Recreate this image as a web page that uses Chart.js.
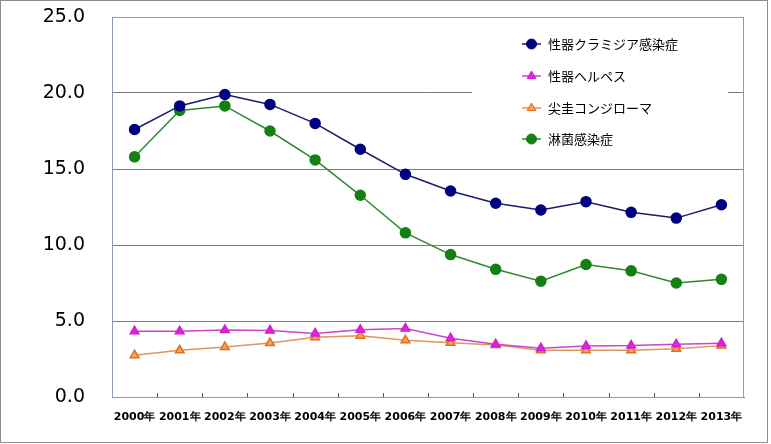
<!DOCTYPE html>
<html>
<head>
<meta charset="utf-8">
<script src="https://cdn.jsdelivr.net/npm/chart.js@4/dist/chart.umd.min.js"></script>
<style>
  body { margin: 0; background: #fff; }
  #wrap { width: 771px; height: 444px; position: relative; }
</style>
</head>
<body>
<div id="wrap"><canvas id="chart"></canvas></div>
<script>
const years = ['2000年', '2001年', '2002年', '2003年', '2004年', '2005年', '2006年',
  '2007年', '2008年', '2009年', '2010年', '2011年', '2012年', '2013年'];

const chlamydia = [17.6, 19.15, 19.9, 19.25, 18.0, 16.3, 14.65, 13.55, 12.75, 12.3, 12.85, 12.15, 11.77, 12.65];
const herpes = [4.32, 4.32, 4.4, 4.38, 4.18, 4.42, 4.5, 3.86, 3.47, 3.2, 3.36, 3.38, 3.47, 3.53];
const condyloma = [2.75, 3.07, 3.29, 3.55, 3.93, 4.03, 3.73, 3.57, 3.42, 3.07, 3.07, 3.07, 3.18, 3.38];
const gonorrhea = [15.8, 18.85, 19.15, 17.5, 15.6, 13.27, 10.8, 9.37, 8.4, 7.62, 8.72, 8.3, 7.5, 7.74];

const yTicks = [0, 5, 10, 15, 20, 25];

const ctx = document.getElementById('chart').getContext('2d');

// legend sits inside the plot, top right, with a white box over the grid
const insideLegend = {
  id: 'insideLegend',
  afterDraw(chart) {
    const c = chart.ctx;
    const area = chart.chartArea;
    c.save();
    // frame around the plot area
    c.strokeStyle = '#8a9bb3';
    c.lineWidth = 1;
    c.strokeRect(area.left + 0.5, area.top + 0.5, area.right - area.left - 1, area.bottom - area.top);
    // small ticks between categories, pointing up
    const xs = chart.scales.x;
    c.strokeStyle = '#555';
    for (let i = 1; i < years.length; i++) {
      const x = Math.round((xs.getPixelForTick(i - 1) + xs.getPixelForTick(i)) / 2) + 0.5;
      c.beginPath();
      c.moveTo(x, area.bottom);
      c.lineTo(x, area.bottom - 4);
      c.stroke();
    }
    // outer frame
    c.strokeStyle = '#8c8c8c';
    c.strokeRect(0.5, 0.5, 767, 442);

    c.fillStyle = '#fff';
    c.fillRect(472, 26, 256, 132);
    const rowY = [44, 76, 108, 139];
    c.font = '13px "Noto Sans CJK JP", sans-serif';
    c.textBaseline = 'middle';
    chart.data.datasets.forEach((ds, i) => {
      const y = rowY[i];
      c.strokeStyle = ds.borderColor;
      c.lineWidth = 1.5;
      c.beginPath();
      c.moveTo(522, y);
      c.lineTo(541, y);
      c.stroke();
      c.fillStyle = ds.pointBackgroundColor;
      c.strokeStyle = ds.pointBorderColor;
      c.lineWidth = 1;
      Chart.helpers.drawPoint(c, { pointStyle: ds.pointStyle, radius: ds.pointRadius, borderWidth: 1 }, 531.5, y);
      c.fillStyle = '#000';
      c.fillText(ds.label, 548, y);
    });
    c.restore();
  }
};

new Chart(ctx, {
  type: 'line',
  data: {
    labels: years,
    datasets: [
      {
        label: '性器クラミジア感染症',
        data: chlamydia,
        borderColor: '#1a1a6e',
        borderWidth: 1.5,
        pointStyle: 'circle',
        pointRadius: 5,
        pointBackgroundColor: '#000080',
        pointBorderColor: '#000080'
      },
      {
        label: '性器ヘルペス',
        data: herpes,
        borderColor: '#cc44cc',
        borderWidth: 1.5,
        pointStyle: 'triangle',
        pointRadius: 5,
        pointBackgroundColor: '#e61ee6',
        pointBorderColor: '#cc22cc'
      },
      {
        label: '尖圭コンジローマ',
        data: condyloma,
        borderColor: '#e0955e',
        borderWidth: 1.5,
        pointStyle: 'triangle',
        pointRadius: 5,
        pointBackgroundColor: '#f7a35c',
        pointBorderColor: '#e0701e'
      },
      {
        label: '淋菌感染症',
        data: gonorrhea,
        borderColor: '#2e8a2e',
        borderWidth: 1.5,
        pointStyle: 'circle',
        pointRadius: 5,
        pointBackgroundColor: '#148014',
        pointBorderColor: '#148014'
      }
    ]
  },
  options: {
    responsive: true,
    maintainAspectRatio: false,
    animation: false,
    layout: { padding: { left: 0, top: 17, right: 27, bottom: 0 } },
    plugins: {
      legend: { display: false },
      tooltip: { enabled: false }
    },
    scales: {
      x: {
        offset: true,
        grid: { display: false },
        border: { color: '#6f7f96', width: 1 },
        ticks: {
          color: '#000',
          padding: 6,
          maxRotation: 0,
          autoSkip: false,
          font: { family: '"DejaVu Sans", sans-serif', size: 11, weight: 'bold' }
        },
        afterFit(scale) {
          scale.height = 47;
          scale.paddingLeft = 0;
          scale.paddingRight = 0;
        }
      },
      y: {
        min: 0,
        max: 25,
        afterBuildTicks(scale) { scale.ticks = yTicks.map(v => ({ value: v })); },
        grid: { color: '#7a7a7a', lineWidth: 1, drawTicks: false },
        border: { color: '#6f7f96', width: 1 },
        ticks: {
          color: '#000',
          padding: 27,
          font: { family: '"DejaVu Sans", sans-serif', size: 19 },
          callback: v => v.toFixed(1)
        },
        afterFit(scale) {
          scale.width = 112;
          scale.paddingTop = 0;
          scale.paddingBottom = 0;
        }
      }
    }
  },
  plugins: [insideLegend]
});
</script>
</body>
</html>
